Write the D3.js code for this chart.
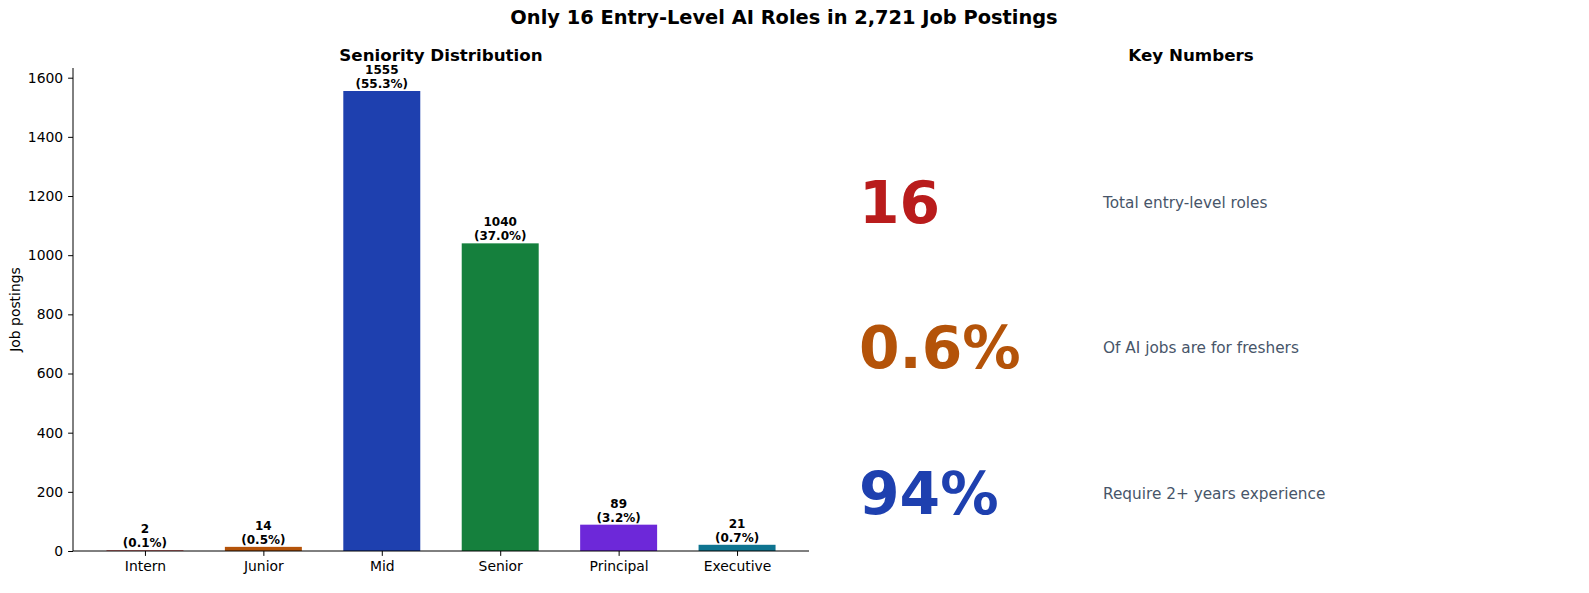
<!DOCTYPE html>
<html><head><meta charset="utf-8">
<script src="https://cdn.jsdelivr.net/npm/d3@7"></script>
<style>html,body{margin:0;padding:0;background:#fff;overflow:hidden;} svg{display:block;font-family:"DejaVu Sans",sans-serif;}</style>
</head><body>
<svg id="c" width="1589" height="593"></svg>
<script>
const categories = ["Intern","Junior","Mid","Senior","Principal","Executive"];
const counts = [2,14,1555,1040,89,21];
const percents = ["0.1%","0.5%","55.3%","37.0%","3.2%","0.7%"];
const barColors = ["#b91c1c","#b45309","#1e40af","#15803d","#6d28d9","#0e7490"];
const yTicks = [0,200,400,600,800,1000,1200,1400,1600];
const keyValues = ["16","0.6%","94%"];
const keyLabels = ["Total entry-level roles","Of AI jobs are for freshers","Require 2+ years experience"];
const keyColors = ["#b91c1c","#b45309","#1e40af"];

const svg = d3.select("#c");
const L = 73, R = 809, T = 68, B = 551;

svg.append("text").attr("x",784).attr("y",24).attr("text-anchor","middle")
  .attr("font-size","19.4px").attr("font-weight","bold").text("Only 16 Entry-Level AI Roles in 2,721 Job Postings");

const n = categories.length, bw = 0.65;
const x = d3.scaleLinear().domain([-bw/2 - 0.05*(n-1+bw), n-1+bw/2 + 0.05*(n-1+bw)]).range([L,R]);
const y = d3.scaleLinear().domain([0, 1555*1.05]).range([B,T]);

svg.append("text").attr("x",(L+R)/2).attr("y",61).attr("text-anchor","middle")
  .attr("font-size","16.7px").attr("font-weight","bold").text("Seniority Distribution");

const g = svg.append("g");
g.selectAll("rect.bar").data(counts).join("rect").attr("class","bar")
  .attr("x",(d,i)=>x(i-bw/2)).attr("width",(d,i)=>x(i+bw/2)-x(i-bw/2))
  .attr("y",d=>y(d)).attr("height",d=>B-y(d)).attr("fill",(d,i)=>barColors[i]);

const lab = g.selectAll("text.lab").data(counts).join("text").attr("class","lab")
  .attr("text-anchor","middle").attr("font-size","12px").attr("font-weight","bold");
lab.append("tspan").attr("x",(d,i)=>x(i)).attr("y",d=>y(d)-17).text(d=>d);
lab.append("tspan").attr("x",(d,i)=>x(i)).attr("y",d=>y(d)-3).text((d,i)=>"("+percents[i]+")");

const ya = svg.append("g").attr("transform",`translate(${L},0)`)
  .call(d3.axisLeft(y).tickValues(yTicks).tickFormat(d3.format("d")).tickSize(4.9).tickPadding(4.9));
const xa = svg.append("g").attr("transform",`translate(0,${B})`)
  .call(d3.axisBottom(x).tickValues(d3.range(n)).tickFormat(i=>categories[i]).tickSize(4.9).tickPadding(4.9));
[ya,xa].forEach(a=>{a.selectAll("text").attr("font-size","13.9px").attr("fill","#000").attr("font-family","DejaVu Sans");
  a.selectAll("line").attr("stroke","#000"); a.select(".domain").attr("stroke","#000");});
ya.select(".domain").attr("d",`M0,${B}V${T}`);
xa.select(".domain").attr("d",`M${L},0H${R}`);

svg.append("text").attr("transform",`translate(20,${(T+B)/2}) rotate(-90)`).attr("text-anchor","middle")
  .attr("font-size","13.9px").text("Job postings");

svg.append("text").attr("x",1191).attr("y",61).attr("text-anchor","middle")
  .attr("font-size","16.7px").attr("font-weight","bold").text("Key Numbers");

const ky = d3.scalePoint().domain(d3.range(keyValues.length)).range([202,493]);
svg.selectAll("text.kv").data(keyValues).join("text").attr("class","kv")
  .attr("x",859).attr("y",(d,i)=>ky(i)).attr("dy","0.36em")
  .attr("font-size","58.3px").attr("font-weight","bold").attr("fill",(d,i)=>keyColors[i]).text(d=>d);
svg.selectAll("text.kl").data(keyLabels).join("text").attr("class","kl")
  .attr("x",1103).attr("y",(d,i)=>ky(i)).attr("dy","0.36em")
  .attr("font-size","15.3px").attr("fill","#475569").text(d=>d);
</script>
</body></html>
